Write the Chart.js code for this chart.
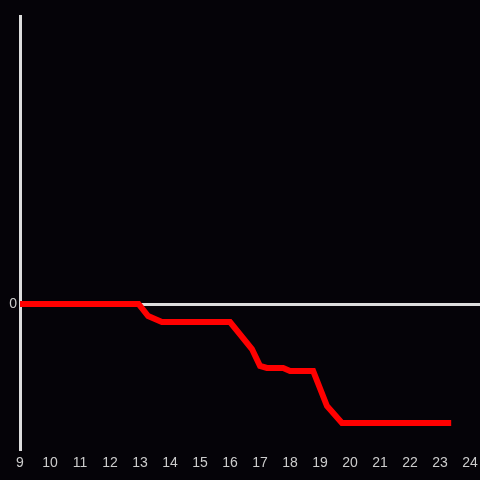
<!DOCTYPE html>
<html lang="en">
<head>
  <meta charset="UTF-8">
  <title>Line chart</title>
  <script src="https://cdn.jsdelivr.net/npm/chart.js"></script>
  <style>
    html, body { margin: 0; padding: 0; background: #050308; }
    #wrap { width: 480px; height: 480px; }
  </style>
</head>
<body>
  <div id="wrap"><canvas id="lineChart" width="480" height="480"></canvas></div>

  <script>
    // x values (hours) and y values of the red series
    const xValues = [9, 12.95, 13.27, 13.73, 16.0, 16.73, 17.0, 17.23, 17.77, 18.0, 18.77, 19.23, 19.73, 23.37];
    const yValues = [0, 0, -12, -18, -18, -45, -62, -64, -64, -67, -67, -102, -119, -119];
    const xTicks = [9, 10, 11, 12, 13, 14, 15, 16, 17, 18, 19, 20, 21, 22, 23, 24];
    const yTicks = [0];

    const points = xValues.map((x, i) => ({ x: x, y: yValues[i] }));

    // fond sombre
    const bgPlugin = {
      id: 'bg',
      beforeDraw(chart) {
        const c = chart.ctx;
        c.save();
        c.fillStyle = '#050308';
        c.fillRect(0, 0, chart.width, chart.height);
        c.restore();
      }
    };

    const ctx = document.getElementById('lineChart').getContext('2d');
    const lineChart = new Chart(ctx, {
      type: 'line',
      data: {
        datasets: [{
          data: points,
          borderColor: '#ff0000',
          borderWidth: 6,
          pointRadius: 0,
          tension: 0,
          fill: false
        }]
      },
      options: {
        responsive: false,
        animation: false,
        layout: { padding: { top: 16, right: 0, left: 0, bottom: 0 } },
        plugins: { legend: { display: false }, tooltip: { enabled: false } },
        scales: {
          x: {
            type: 'linear',
            min: 9,
            max: 24.33,
            afterBuildTicks: (s) => { s.ticks = xTicks.map(v => ({ value: v })); },
            afterFit: (s) => { s.height = 31; },
            grid: { display: false },
            border: { display: false },
            ticks: {
              color: '#cccccc',
              font: { family: 'Liberation Sans', size: 14 },
              maxRotation: 0,
              autoSkip: false,
              padding: -2
            }
          },
          y: {
            min: -145,
            max: 288,
            afterBuildTicks: (s) => { s.ticks = yTicks.map(v => ({ value: v })); },
            afterFit: (s) => { s.width = 20; },
            grid: { color: '#dddddd', lineWidth: 3, drawTicks: false },
            border: { display: true, color: '#dddddd', width: 3 },
            ticks: {
              color: '#cccccc',
              font: { family: 'Liberation Sans', size: 14 },
              padding: 3
            }
          }
        }
      },
      plugins: [bgPlugin]
    });
  </script>
</body>
</html>
